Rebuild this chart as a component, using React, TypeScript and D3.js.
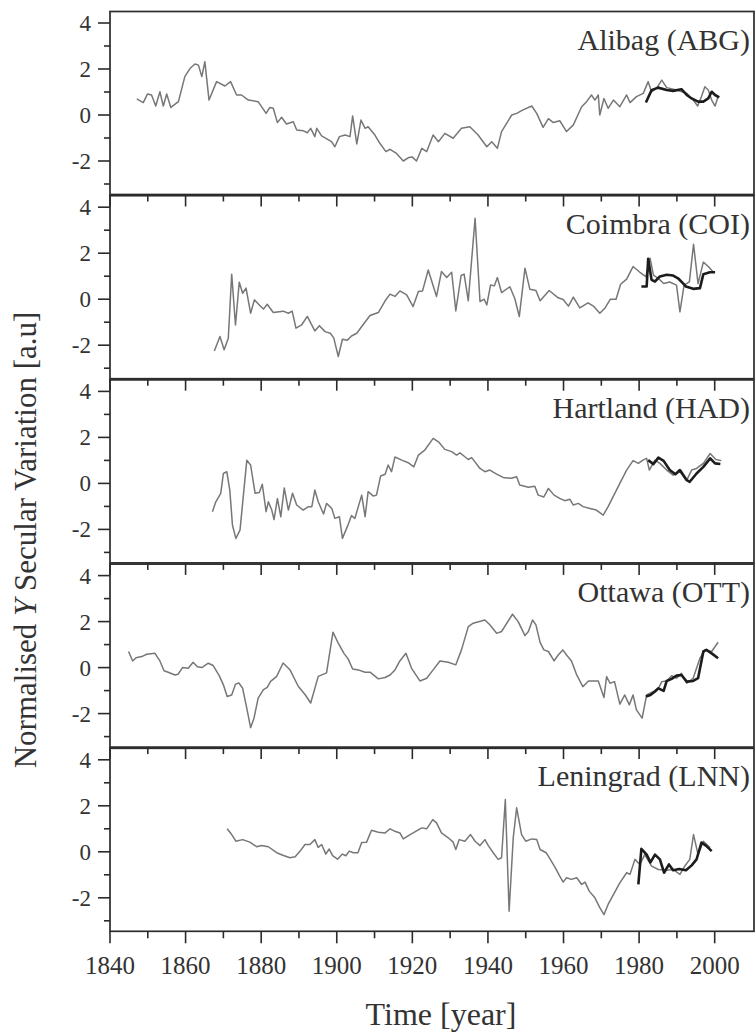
import React from "react";
import * as d3 from "d3";

// ---------- data (year, normalised Y SV) ----------
const abgObserved: [number, number][] = [
  [1847.1, 0.7], [1848.8, 0.54], [1849.9, 0.91], [1851.0, 0.87], [1852.1, 0.39], [1853.2, 1.01],
  [1854.1, 0.39], [1855.0, 0.91], [1856.1, 0.33], [1858.1, 0.58], [1859.8, 1.67], [1861.2, 2.03],
  [1862.5, 2.22], [1863.4, 2.17], [1864.3, 1.67], [1865.1, 2.32], [1866.2, 0.65], [1868.2, 1.45],
  [1870.4, 1.26], [1871.9, 1.45], [1873.5, 0.87], [1874.8, 0.87], [1876.6, 0.65], [1879.2, 0.58],
  [1881.3, 0.07], [1882.3, 0.33], [1883.2, 0.29], [1884.3, -0.33], [1885.4, -0.1], [1886.7, -0.39],
  [1888.5, -0.29], [1889.4, -0.65], [1891.1, -0.68], [1892.2, -0.77], [1893.1, -0.58], [1894.2, -0.94],
  [1894.7, -0.58], [1896.0, -0.91], [1898.6, -1.16], [1899.5, -1.38], [1900.7, -0.94], [1902.2, -0.87],
  [1903.5, -0.94], [1904.2, -0.04], [1905.3, -1.26], [1906.4, -0.22], [1907.5, -0.58], [1908.3, -0.51],
  [1910.1, -0.87], [1911.4, -1.23], [1913.0, -1.59], [1914.1, -1.49], [1915.8, -1.67], [1917.6, -2.0],
  [1919.0, -1.85], [1920.0, -1.83], [1921.1, -2.0], [1922.5, -1.45], [1923.8, -1.59], [1925.5, -0.87],
  [1926.9, -1.16], [1928.6, -0.8], [1930.8, -1.01], [1933.0, -0.58], [1935.2, -0.51], [1937.4, -0.87],
  [1939.7, -1.38], [1941.0, -1.16], [1942.5, -1.45], [1943.6, -0.72], [1946.3, 0.0], [1947.6, 0.07],
  [1949.3, 0.22], [1951.6, 0.39], [1952.9, 0.07], [1954.6, -0.54], [1956.0, -0.16], [1957.3, -0.33],
  [1959.0, -0.25], [1960.8, -0.72], [1962.6, -0.43], [1964.8, 0.36], [1966.1, 0.58], [1967.4, 0.87],
  [1968.3, 0.65], [1969.2, 0.87], [1969.6, 0.0], [1970.7, 0.72], [1971.8, 0.29], [1973.2, 0.65],
  [1974.9, 0.36], [1976.7, 0.87], [1977.6, 0.54], [1979.3, 0.8], [1981.1, 0.94], [1982.4, 1.45],
  [1983.3, 1.01], [1984.6, 1.16], [1986.0, 1.52], [1987.3, 1.19], [1989.9, 1.09], [1992.6, 0.94],
  [1994.3, 0.65], [1995.5, 0.39], [1996.5, 0.8], [1997.4, 1.23], [1998.3, 1.09], [1999.2, 0.65],
  [2000.1, 0.39], [2000.9, 0.8],
];
const abgModel: [number, number][] = [
  [1981.8, 0.54], [1983.3, 1.08], [1985.0, 1.19], [1987.3, 1.09], [1989.0, 1.05], [1991.2, 1.12],
  [1992.6, 0.87], [1993.9, 0.72], [1995.6, 0.58], [1997.0, 0.58], [1998.3, 0.72], [1999.2, 1.01],
  [2000.1, 0.87], [2001.2, 0.77],
];

const coiObserved: [number, number][] = [
  [1867.6, -2.25], [1869.1, -1.62], [1870.2, -2.2], [1871.3, -1.7], [1872.2, 1.09], [1873.2, -1.12],
  [1874.2, 0.74], [1875.1, 0.26], [1876.0, 0.48], [1877.2, -0.61], [1878.2, -0.03], [1879.5, -0.25],
  [1880.6, -0.43], [1881.6, -0.22], [1883.2, -0.58], [1885.8, -0.52], [1887.2, -0.61], [1888.2, -0.52],
  [1889.2, -1.26], [1890.7, -1.12], [1892.2, -0.75], [1894.2, -1.38], [1895.4, -1.15], [1896.9, -1.41],
  [1898.3, -1.48], [1899.2, -1.68], [1900.4, -2.49], [1901.5, -1.74], [1902.8, -1.78], [1903.9, -1.6],
  [1905.3, -1.48], [1907.0, -1.1], [1908.8, -0.71], [1911.0, -0.58], [1912.8, -0.07], [1914.1, 0.22],
  [1915.4, 0.12], [1916.7, 0.36], [1918.5, 0.19], [1920.2, -0.32], [1921.6, 0.33], [1922.7, 0.36],
  [1924.2, 1.27], [1926.4, 0.12], [1927.7, 1.2], [1929.1, 0.94], [1930.4, 1.17], [1931.5, -0.51],
  [1932.9, 1.03], [1933.7, 1.09], [1934.8, -0.07], [1936.6, 3.52], [1937.9, -0.1], [1939.0, 0.0],
  [1939.7, -0.25], [1940.7, 0.62], [1941.7, 0.58], [1942.5, 0.94], [1943.6, 0.29], [1945.8, 0.54],
  [1947.1, 0.03], [1948.3, -0.75], [1949.8, 1.35], [1951.1, 0.43], [1952.7, 0.38], [1953.8, -0.07],
  [1956.2, 0.38], [1958.6, 0.06], [1959.9, -0.01], [1961.3, -0.3], [1962.6, 0.09], [1964.3, -0.38],
  [1966.5, -0.16], [1967.9, -0.3], [1969.6, -0.61], [1971.0, -0.38], [1972.4, 0.0], [1973.9, 0.0],
  [1975.1, 0.65], [1976.7, 0.87], [1978.4, 1.42], [1980.2, 1.17], [1981.8, 0.98], [1982.9, 1.78],
  [1983.8, 1.05], [1985.1, 0.9], [1986.5, 0.68], [1988.1, 0.75], [1989.9, 0.61], [1990.8, -0.55],
  [1991.9, 0.61], [1993.3, 0.75], [1994.4, 2.39], [1995.6, 0.68], [1997.0, 1.61], [1998.3, 1.42],
  [1999.7, 1.17],
];
const coiModel: [number, number][] = [
  [1980.6, 0.55], [1982.0, 0.55], [1982.4, 1.76], [1983.3, 0.84], [1984.2, 0.77], [1985.5, 0.99],
  [1987.3, 1.06], [1989.0, 1.03], [1990.3, 0.91], [1991.7, 0.68], [1992.4, 0.55], [1994.3, 0.45],
  [1996.1, 0.48], [1997.0, 1.09], [1998.7, 1.17], [2000.1, 1.17],
];

const hadObserved: [number, number][] = [
  [1867.1, -1.23], [1868.0, -0.8], [1869.3, -0.43], [1870.0, 0.43], [1870.9, 0.51], [1871.7, -0.29],
  [1872.4, -1.81], [1873.3, -2.39], [1874.4, -2.03], [1876.2, 1.01], [1877.2, 0.8], [1878.4, -0.43],
  [1879.5, -0.4], [1880.3, -0.04], [1881.3, -1.23], [1881.9, -0.8], [1882.8, -1.16], [1883.4, -1.57],
  [1884.3, -0.66], [1885.2, -1.45], [1886.1, -0.2], [1887.2, -1.16], [1888.3, -0.43], [1889.4, -0.94],
  [1891.1, -1.16], [1892.5, -1.01], [1893.4, -1.01], [1894.2, -0.29], [1895.1, -0.8], [1896.5, -1.33],
  [1897.3, -0.87], [1898.7, -1.09], [1899.5, -1.52], [1900.7, -1.45], [1901.5, -2.39], [1902.8, -1.88],
  [1903.9, -1.4], [1904.8, -1.52], [1905.7, -1.01], [1906.6, -0.51], [1907.5, -1.45], [1908.3, -0.36],
  [1909.7, -0.55], [1910.5, -0.51], [1911.6, 0.32], [1912.8, 0.4], [1913.6, 0.8], [1914.5, 0.51],
  [1915.4, 1.15], [1917.2, 1.01], [1918.9, 0.9], [1920.4, 0.72], [1921.6, 1.23], [1923.3, 1.45],
  [1925.5, 1.96], [1926.9, 1.81], [1928.6, 1.48], [1930.4, 1.38], [1931.7, 1.23], [1932.6, 1.33],
  [1933.9, 1.16], [1934.8, 1.04], [1935.7, 1.12], [1937.9, 0.65], [1939.2, 0.51], [1940.5, 0.58],
  [1942.3, 0.4], [1944.0, 0.26], [1946.2, 0.22], [1947.6, 0.29], [1948.4, -0.07], [1950.7, -0.17],
  [1952.4, -0.12], [1953.3, -0.51], [1954.8, -0.59], [1956.0, -0.22], [1957.5, -0.51], [1959.0, -0.65],
  [1960.3, -0.75], [1961.7, -0.69], [1962.6, -0.94], [1963.9, -0.87], [1965.2, -1.01], [1967.0, -1.09],
  [1968.7, -1.16], [1970.5, -1.38], [1971.8, -1.01], [1973.2, -0.55], [1974.9, 0.0], [1976.7, 0.58],
  [1978.4, 0.99], [1979.8, 0.87], [1981.0, 1.01], [1982.0, 1.09], [1982.7, 0.58], [1984.2, 1.01],
  [1985.5, 0.87], [1987.3, 0.58], [1989.0, 0.36], [1990.8, 0.51], [1992.6, 0.14], [1993.9, 0.58],
  [1995.2, 0.65], [1997.0, 0.87], [1998.8, 1.3], [2000.3, 1.04], [2001.8, 0.99],
];
const hadModel: [number, number][] = [
  [1982.4, 1.01], [1983.8, 0.84], [1985.1, 1.12], [1986.5, 0.98], [1988.1, 0.58], [1989.6, 0.4],
  [1990.8, 0.58], [1992.6, 0.14], [1993.4, 0.07], [1995.2, 0.43], [1997.0, 0.72], [1998.8, 1.09],
  [2000.1, 0.87], [2001.5, 0.84],
];

const ottObserved: [number, number][] = [
  [1844.9, 0.7], [1846.0, 0.29], [1846.9, 0.43], [1848.4, 0.48], [1849.7, 0.58], [1851.9, 0.62],
  [1853.2, 0.29], [1854.3, -0.14], [1855.4, -0.2], [1857.2, -0.32], [1858.0, -0.29], [1859.2, 0.0],
  [1860.7, -0.03], [1862.0, 0.23], [1863.1, 0.04], [1864.3, 0.0], [1866.0, 0.19], [1867.3, 0.09],
  [1868.9, -0.35], [1870.0, -0.75], [1871.0, -1.26], [1872.2, -1.19], [1873.2, -0.72], [1874.1, -0.67],
  [1875.1, -0.9], [1876.2, -1.77], [1877.2, -2.61], [1878.1, -2.2], [1879.2, -1.33], [1880.6, -0.96],
  [1881.6, -0.86], [1882.5, -0.6], [1884.1, -0.38], [1885.8, 0.2], [1887.6, -0.09], [1889.8, -0.81],
  [1891.6, -1.17], [1893.1, -1.54], [1895.1, -0.38], [1897.3, -0.23], [1899.0, 1.54], [1900.4, 1.06],
  [1901.9, 0.62], [1903.0, 0.38], [1904.2, -0.06], [1905.7, -0.1], [1907.5, -0.2], [1908.8, -0.2],
  [1911.0, -0.49], [1912.8, -0.43], [1914.1, -0.32], [1915.4, -0.1], [1916.7, 0.29], [1918.3, 0.62],
  [1919.8, -0.03], [1922.0, -0.58], [1923.8, -0.46], [1925.5, -0.1], [1927.3, 0.29], [1929.5, 0.23],
  [1931.5, 0.12], [1933.0, 0.77], [1934.8, 1.78], [1936.1, 1.93], [1939.2, 2.07], [1940.5, 1.86],
  [1942.3, 1.49], [1943.6, 1.57], [1946.5, 2.32], [1948.0, 2.0], [1949.8, 1.39], [1950.7, 1.57],
  [1951.8, 2.07], [1952.7, 1.86], [1953.8, 1.1], [1954.8, 0.77], [1956.0, 0.7], [1957.5, 0.29],
  [1958.6, 0.55], [1959.8, 0.77], [1960.8, 0.55], [1962.1, 0.29], [1963.5, -0.32], [1965.1, -0.83],
  [1966.6, -0.58], [1967.9, -0.58], [1969.2, -0.58], [1970.7, -1.3], [1971.4, -0.39], [1972.3, -0.68],
  [1973.5, -0.61], [1974.9, -1.59], [1976.2, -1.19], [1977.4, -1.62], [1978.4, -1.19], [1979.3, -1.84],
  [1980.8, -2.2], [1982.0, -1.19], [1983.8, -1.04], [1985.1, -0.9], [1986.0, -0.61], [1987.3, -0.58],
  [1988.6, -0.35], [1989.9, -0.46], [1991.2, -0.25], [1992.6, -0.68], [1994.3, -0.46], [1996.1, 0.41],
  [1997.4, 0.77], [1999.2, 0.7], [2000.9, 1.1],
];
const ottModel: [number, number][] = [
  [1981.8, -1.26], [1983.0, -1.19], [1984.2, -1.04], [1985.1, -0.9], [1986.5, -1.01], [1987.3, -0.58],
  [1988.6, -0.49], [1989.9, -0.35], [1991.2, -0.32], [1992.6, -0.61], [1994.3, -0.58], [1995.6, -0.46],
  [1997.0, 0.7], [1997.8, 0.77], [1999.2, 0.62], [2000.9, 0.41],
];

const lnnObserved: [number, number][] = [
  [1871.0, 1.0], [1872.2, 0.75], [1873.3, 0.46], [1875.1, 0.53], [1877.0, 0.42], [1878.8, 0.22],
  [1880.1, 0.27], [1881.9, 0.22], [1884.1, -0.04], [1885.9, -0.16], [1887.6, -0.26], [1889.0, -0.22],
  [1890.3, 0.03], [1891.6, 0.32], [1892.9, 0.32], [1894.2, 0.53], [1895.1, 0.19], [1896.0, 0.32],
  [1897.1, -0.1], [1898.0, 0.12], [1898.9, -0.17], [1900.2, -0.32], [1901.5, -0.1], [1902.4, -0.17],
  [1903.3, 0.03], [1904.4, -0.04], [1905.6, -0.04], [1906.6, 0.4], [1907.9, 0.42], [1909.2, 0.94],
  [1911.0, 0.85], [1912.8, 0.82], [1914.1, 1.0], [1915.4, 0.89], [1916.7, 0.82], [1917.6, 0.56],
  [1919.4, 0.75], [1920.2, 0.82], [1922.5, 1.04], [1923.8, 1.0], [1925.4, 1.4], [1926.4, 1.26],
  [1927.7, 0.82], [1929.5, 0.61], [1930.8, 0.42], [1931.5, 0.1], [1932.4, 0.53], [1933.9, 0.46],
  [1935.4, 0.75], [1936.6, 0.46], [1937.9, 0.27], [1939.2, 0.53], [1940.1, 0.27], [1941.4, -0.04],
  [1942.7, -0.33], [1943.6, -0.26], [1944.6, 2.27], [1945.6, -2.58], [1946.7, 0.62], [1947.6, 1.91],
  [1948.9, 0.75], [1950.0, 0.46], [1951.6, 0.56], [1952.9, 0.53], [1953.8, 0.1], [1955.4, -0.04],
  [1956.5, -0.33], [1957.8, -0.69], [1959.0, -1.06], [1959.9, -1.32], [1960.8, -1.13], [1962.1, -1.2],
  [1963.5, -1.13], [1964.8, -1.42], [1965.7, -1.32], [1966.8, -1.71], [1968.3, -2.0], [1969.6, -2.43],
  [1970.7, -2.73], [1971.8, -2.29], [1973.2, -1.86], [1974.9, -1.35], [1976.7, -0.91], [1977.6, -0.98],
  [1978.9, -0.33], [1980.2, -0.55], [1981.5, -0.12], [1983.3, -0.62], [1985.1, -0.77], [1987.3, -0.8],
  [1989.0, -0.77], [1990.8, -0.98], [1992.1, -0.62], [1993.4, -0.33], [1994.4, 0.75], [1995.6, -0.12],
  [1997.0, 0.46], [1998.8, 0.17],
];
const lnnModel: [number, number][] = [
  [1979.8, -1.42], [1980.6, 0.13], [1982.0, -0.12], [1983.0, -0.46], [1984.2, -0.12], [1985.5, -0.33],
  [1986.6, -0.91], [1987.9, -0.55], [1989.0, -0.8], [1990.6, -0.75], [1992.4, -0.8], [1993.9, -0.59],
  [1995.2, -0.33], [1996.5, 0.4], [1997.7, 0.27], [1999.2, 0.03],
];

const stationNames = ["Alibag (ABG)", "Coimbra (COI)", "Hartland (HAD)", "Ottawa (OTT)", "Leningrad (LNN)"];
const observedSeries = [abgObserved, coiObserved, hadObserved, ottObserved, lnnObserved];
const modelSeries = [abgModel, coiModel, hadModel, ottModel, lnnModel];

const yTickValues = [-3, -2, -1, 0, 1, 2, 3, 4];
const yTickLabels = [4, 2, 0, -2];
const xTickYears = d3.range(1840, 2001, 10);
const xLabelYears = d3.range(1840, 2001, 20);

// ---------- layout ----------
const W = 755;
const H = 1034;
const LEFT = 110;
const RIGHT = 754;
const TOP0 = 11.5;
const STRIDE = 184.2;
const PANEL_H = 183;
const FONT = "'Liberation Serif', 'Times New Roman', Times, serif";
const AXIS = "#2b2b2b";

export default function App() {
  const x = d3.scaleLinear().domain([1840, 2010.4]).range([LEFT, RIGHT]);
  const last = stationNames.length - 1;

  return (
    <svg
      width={W}
      height={H}
      style={{ position: "absolute", left: 0, top: 0, background: "#fff" }}
      fontFamily={FONT}
    >
      {stationNames.map((name, i) => {
        const top = TOP0 + i * STRIDE;
        const y = d3.scaleLinear().domain([-3.5, 4.5]).range([top + 184, top]);
        const line = d3
          .line<[number, number]>()
          .x((d) => x(d[0]))
          .y((d) => y(d[1]));
        const bottom = top + PANEL_H;
        return (
          <g key={name}>
            <path d={line(observedSeries[i]) || ""} fill="none" stroke="#777" strokeWidth={1.5} strokeLinejoin="round" />
            <path d={line(modelSeries[i]) || ""} fill="none" stroke="#1c1c1c" strokeWidth={2.6} strokeLinejoin="round" />
            <rect x={LEFT} y={top} width={RIGHT - LEFT} height={PANEL_H} fill="none" stroke={AXIS} strokeWidth={1.7} />
            {yTickValues.map((v) => (
              <line
                key={"yt" + v}
                x1={LEFT}
                x2={LEFT - (v % 2 === 0 ? 12 : 6)}
                y1={y(v)}
                y2={y(v)}
                stroke={AXIS}
                strokeWidth={1.6}
              />
            ))}
            {yTickLabels.map((v) => (
              <text key={"yl" + v} x={91} y={y(v) + 8} textAnchor="end" fontSize={23} fill="#333">
                {v}
              </text>
            ))}
            {xTickYears.map((yr) => (
              <line
                key={"xt" + yr}
                x1={x(yr)}
                x2={x(yr)}
                y1={bottom}
                y2={bottom + (yr % 20 === 0 ? 12 : 7)}
                stroke={AXIS}
                strokeWidth={1.6}
              />
            ))}
            <text x={750} y={top + 38} textAnchor="end" fontSize={30} fill="#333">
              {name}
            </text>
            {i === last &&
              xLabelYears.map((yr) => (
                <text key={"xl" + yr} x={x(yr)} y={974} textAnchor="middle" fontSize={25} fill="#333">
                  {yr}
                </text>
              ))}
          </g>
        );
      })}
      <text x={441} y={1025} textAnchor="middle" fontSize={32} fill="#333">
        Time [year]
      </text>
      <text transform="translate(36,540) rotate(-90)" textAnchor="middle" fontSize={31} fill="#333">
        Normalised <tspan fontStyle="italic">Y</tspan> Secular Variation [a.u]
      </text>
    </svg>
  );
}
